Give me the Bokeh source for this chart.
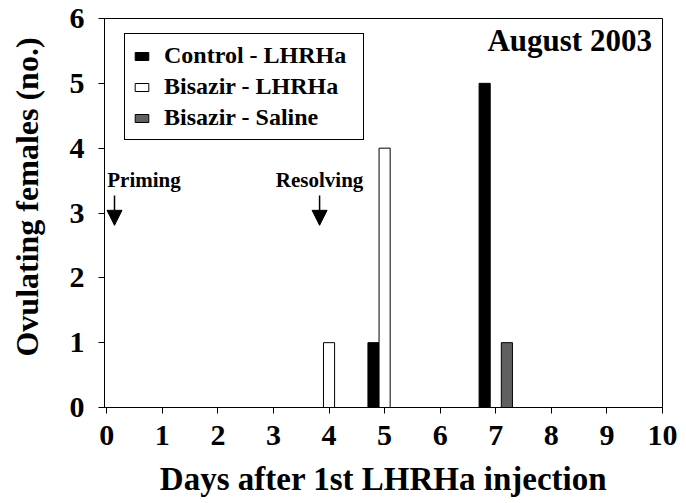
from bokeh.plotting import figure
from bokeh.models import (ColumnDataSource, Legend, LegendItem, FixedTicker,
                          Arrow, NormalHead, Label)
from bokeh.transform import dodge
from bokeh.embed import file_html
from bokeh.resources import INLINE

# ---- data ----
days = [4, 5, 7]
control_lhrha = [0, 1, 5]
bisazir_lhrha = [1, 4, 0]
bisazir_saline = [0, 0, 1]
series_names = ["Control - LHRHa", "Bisazir - LHRHa", "Bisazir - Saline"]
series_colors = ["#000000", "#ffffff", "#606060"]
series_offsets = [-0.2, 0.0, 0.2]
x_ticks = list(range(0, 11))
y_ticks = list(range(0, 7))
event_names = ["Priming", "Resolving"]
event_days = [0.14, 3.83]
title_text = "August 2003"
x_label = "Days after 1st LHRHa injection"
y_label = "Ovulating females (no.)"

FONT = "Liberation Serif"

p = figure(width=686, height=503, output_backend="svg", toolbar_location=None,
           x_range=(-0.04, 10), y_range=(0, 6),
           min_border_left=104, min_border_right=24, min_border_top=18,
           min_border_bottom=96)
p.outline_line_color = "black"
p.outline_line_width = 1
p.outline_line_alpha = 1
p.xgrid.visible = False
p.ygrid.visible = False
p.background_fill_color = "white"
p.border_fill_color = "white"

items = []
for name, vals, col, off in zip(series_names,
                                [control_lhrha, bisazir_lhrha, bisazir_saline],
                                series_colors, series_offsets):
    dd = [d for d, v in zip(days, vals) if v > 0]
    vv = [v for v in vals if v > 0]
    src = ColumnDataSource(dict(day=dd, count=vv))
    r = p.vbar(x=dodge("day", off), top="count", bottom=0, width=0.2, source=src,
               fill_color=col, line_color="black", line_width=1)
    items.append(LegendItem(label=name, renderers=[r]))

legend = Legend(items=items, location=(20, 267))
legend.label_text_font = FONT
legend.label_text_font_style = "bold"
legend.label_text_font_size = "24px"
legend.label_text_color = "black"
legend.label_width = 191
legend.glyph_width = 17
legend.glyph_height = 10
legend.label_standoff = 14
legend.spacing = 4
legend.padding = 8
legend.border_line_color = "black"
legend.border_line_width = 1
legend.border_line_alpha = 1
legend.background_fill_alpha = 1
p.add_layout(legend, "center")

for ax in (p.xaxis[0], p.yaxis[0]):
    ax.axis_line_color = "black"
    ax.axis_line_width = 1
    ax.major_tick_line_color = "black"
    ax.major_tick_out = 6
    ax.major_tick_in = 0
    ax.minor_tick_line_color = None
    ax.major_label_text_font = FONT
    ax.major_label_text_font_style = "bold"
    ax.major_label_text_font_size = "30px"
    ax.major_label_text_color = "black"
    ax.axis_label_text_font = FONT
    ax.axis_label_text_font_style = "bold"
    ax.axis_label_text_color = "black"

p.xaxis.ticker = FixedTicker(ticks=x_ticks)
p.yaxis.ticker = FixedTicker(ticks=y_ticks)
p.xaxis.axis_label = x_label
p.xaxis.axis_label_text_font_size = "33px"
p.xaxis.major_label_standoff = 12
p.xaxis.axis_label_standoff = 13
# leading no-break spaces lift the title a little above the frame centre, as in the original
p.yaxis.axis_label = "\u00a0\u00a0\u00a0\u00a0" + y_label
p.yaxis.axis_label_text_font_size = "32px"
p.yaxis.major_label_standoff = 14
p.yaxis.axis_label_standoff = 22

for name, d, align in zip(event_names, event_days, ["left", "center"]):
    p.add_layout(Label(x=d - (0.13 if align == "left" else 0), y=3.32, text=name,
                       text_align=align, text_font=FONT, text_font_style="bold",
                       text_font_size="21px", text_color="black"))
    p.add_layout(Arrow(end=NormalHead(size=15, fill_color="black", line_color="black"),
                       x_start=d, y_start=3.27, x_end=d, y_end=2.81,
                       line_width=1.5, line_color="black"))

p.add_layout(Label(x=9.81, y=5.39, text=title_text, text_align="right",
                   text_font=FONT, text_font_style="bold", text_font_size="31px",
                   text_color="black"))

open("out.html", "w").write(file_html(p, INLINE))
